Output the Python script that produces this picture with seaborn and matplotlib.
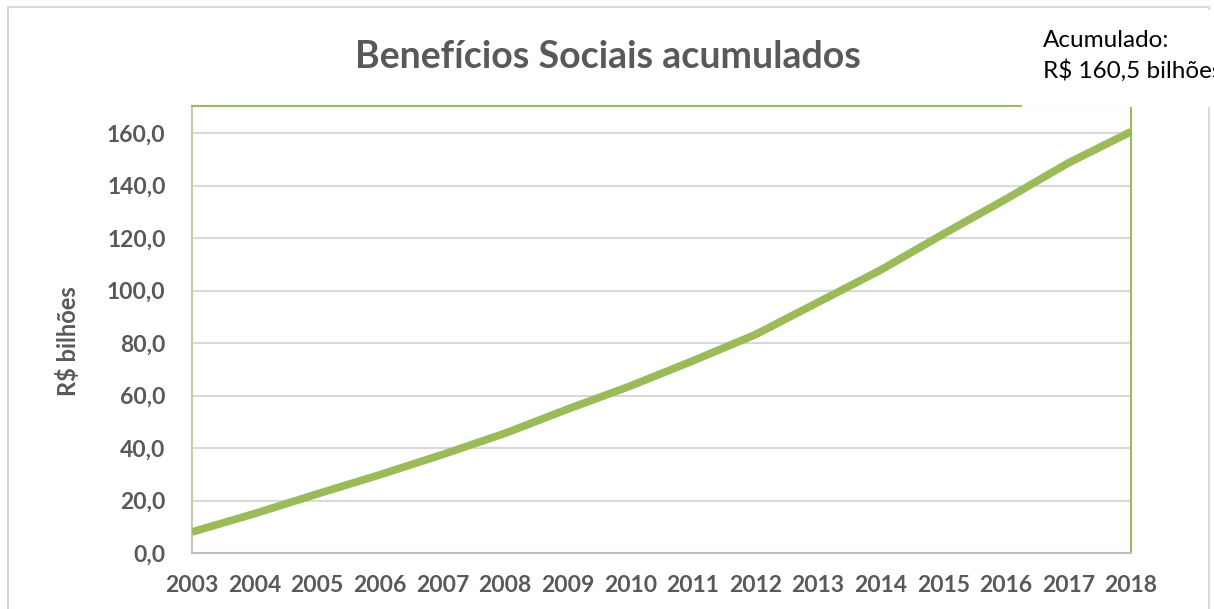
import matplotlib
matplotlib.use("Agg")
import matplotlib.pyplot as plt
import seaborn as sns
import pandas as pd
from matplotlib.patches import Rectangle
from matplotlib.ticker import FuncFormatter

# ---- data ----
years = list(range(2003, 2019))
acumulado = [8.0, 15.0, 22.5, 29.8, 37.5, 45.6, 54.8, 63.6,
             73.2, 83.2, 95.5, 107.8, 121.5, 134.8, 148.6, 160.5]
y_ticks = [0, 20, 40, 60, 80, 100, 120, 140, 160]

title_text = "Benefícios Sociais acumulados"
ylabel_text = "R$ bilhões"
note_text = "Acumulado:\nR$ 160,5 bilhões"

df = pd.DataFrame({"ano": years, "valor": acumulado})

sns.set_style("white")
plt.rcParams["font.family"] = ["Lato", "DejaVu Sans"]

grey = "#595959"
green = "#9bbb59"

fig = plt.figure(figsize=(12.14, 6.09), dpi=100)
ax = fig.add_axes([192 / 1214, 1 - 553 / 609, (1131 - 192) / 1214, (553 - 106) / 609])

sns.lineplot(data=df, x="ano", y="valor", ax=ax, color=green, linewidth=5.6,
             solid_capstyle="butt", zorder=3)

ax.set_xlim(years[0], years[-1])
ax.set_ylim(0, 170.3)
ax.set_xticks(years)
ax.set_yticks(y_ticks)
ax.yaxis.set_major_formatter(FuncFormatter(lambda v, p: f"{v:.1f}".replace(".", ",")))
ax.grid(axis="y", color="#d9d9d9", linewidth=1.5)
ax.grid(axis="x", visible=False)
ax.tick_params(length=0, labelsize=16.5, colors=grey)
ax.tick_params(axis="y", pad=19)
ax.tick_params(axis="x", pad=16)
for lbl in ax.get_xticklabels() + ax.get_yticklabels():
    lbl.set_fontweight("bold")

ax.set_xlabel("")
ax.set_ylabel(ylabel_text, fontsize=17, fontweight="bold", color=grey)
ax.yaxis.set_label_coords((80 - 192) / 939, (553 - 341) / 447)

ax.spines["left"].set_color("#c4cbb0")
ax.spines["bottom"].set_color("#bfbfbf")
ax.spines["top"].set_color(green)
ax.spines["right"].set_color(green)
for s in ax.spines.values():
    s.set_linewidth(1.5)

fig.text(608 / 1214, 1 - 57 / 609, title_text, ha="center", va="center",
         fontsize=27, fontweight="bold", color=grey)

# outer chart border
fig.patches.append(Rectangle((8 / 1214, -0.02), (1209 - 8) / 1214, 1.02 - 7 / 609,
                             transform=fig.transFigure, fill=False,
                             edgecolor="#d9d9d9", linewidth=1.5, zorder=0))
# white box behind the note, covering the top-right of the plot frame
fig.patches.append(Rectangle((1022 / 1214, 1 - 107 / 609), 0.2, 97 / 609,
                             transform=fig.transFigure, facecolor="white",
                             edgecolor="none", zorder=5))
# the note runs past the right edge, as in the original
fig.text(1043 / 1214, 1 - 30 / 609, note_text, ha="left", va="top",
         fontsize=17.5, color="black", linespacing=1.45, zorder=6)

fig.savefig("out.png", dpi=100)
